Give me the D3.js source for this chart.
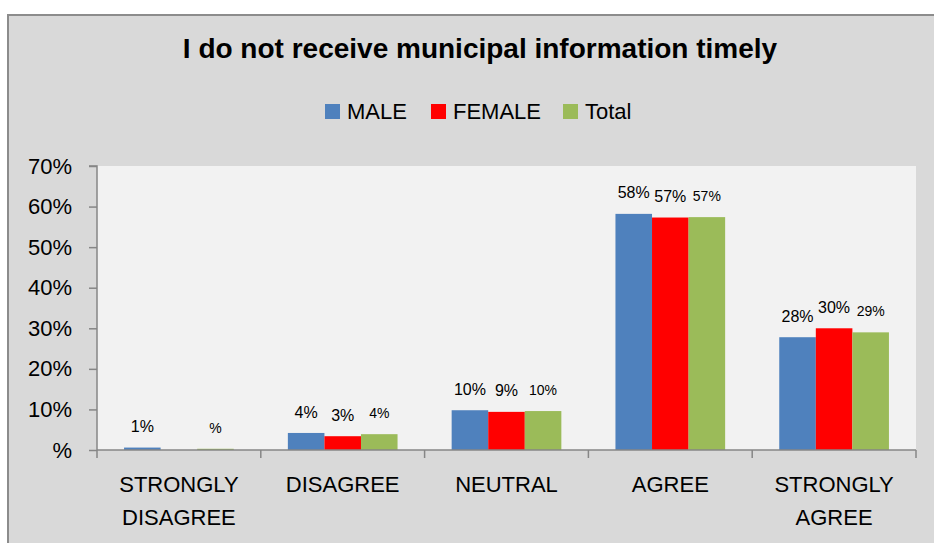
<!DOCTYPE html>
<html>
<head>
<meta charset="utf-8">
<script src="https://cdn.jsdelivr.net/npm/d3@7"></script>
<style>
  html, body { margin: 0; padding: 0; background: #ffffff; }
  svg { display: block; font-family: "Liberation Sans", Arial, sans-serif; }
</style>
</head>
<body>
<svg id="chart" width="934" height="543"></svg>
<script>
// Survey responses: "I do not receive municipal information timely"
const categories = [["STRONGLY", "DISAGREE"], ["DISAGREE"], ["NEUTRAL"], ["AGREE"], ["STRONGLY", "AGREE"]];
const seriesNames = ["MALE", "FEMALE", "Total"];
const maleValues   = [0.006, 0.042, 0.098, 0.582, 0.278];
const femaleValues = [null,  0.034, 0.094, 0.573, 0.300];
const totalValues  = [0.003, 0.039, 0.096, 0.574, 0.290];
const yTicks = [0, 0.1, 0.2, 0.3, 0.4, 0.5, 0.6, 0.7];
const yTickLabels = ["%", "10%", "20%", "30%", "40%", "50%", "60%", "70%"];
const colors = ["#4f81bd", "#ff0000", "#9bbb59"];

const series = [maleValues, femaleValues, totalValues];
const svg = d3.select("#chart");

// Chart frame
svg.append("rect")
  .attr("x", 8).attr("y", 15)
  .attr("width", 940).attr("height", 560)
  .attr("fill", "#d9d9d9")
  .attr("stroke", "#8c8c8c").attr("stroke-width", 2);

const plot = { left: 97, right: 916, top: 166, bottom: 450 };

// Plot area
svg.append("rect")
  .attr("x", plot.left).attr("y", plot.top)
  .attr("width", plot.right - plot.left).attr("height", plot.bottom - plot.top)
  .attr("fill", "#f2f2f2");

// Excel-style "#%" format: zero renders as a bare percent sign
const pct = v => { const n = Math.round(v * 100); return (n === 0 ? "" : n) + "%"; };

const x0 = d3.scaleBand().domain(d3.range(categories.length))
  .range([plot.left, plot.right]).paddingInner(0).paddingOuter(0);
const x1 = d3.scaleBand().domain(d3.range(series.length))
  .range([0, x0.bandwidth()]).paddingInner(0).paddingOuter(0.74);
const y = d3.scaleLinear().domain([0, 0.7]).range([plot.bottom, plot.top]);

// Bars
const groups = svg.append("g").selectAll("g")
  .data(d3.range(categories.length)).join("g")
  .attr("transform", i => `translate(${x0(i)},0)`);

groups.each(function(ci) {
  const g = d3.select(this);
  series.forEach((vals, si) => {
    const v = vals[ci];
    if (v === null) return;
    g.append("rect")
      .attr("x", x1(si)).attr("width", x1.bandwidth())
      .attr("y", y(v)).attr("height", y(0) - y(v))
      .attr("fill", colors[si]);
  });
});

// Value labels
groups.each(function(ci) {
  const g = d3.select(this);
  series.forEach((vals, si) => {
    const v = vals[ci];
    if (v === null) return;
    g.append("text")
      .attr("x", x1(si) + x1.bandwidth() / 2)
      .attr("y", y(v) - 21)
      .attr("dy", "0.35em")
      .attr("text-anchor", "middle")
      .attr("font-size", si === 2 ? 14 : 16)
      .attr("fill", "#000")
      .text(pct(v));
  });
});

// Y axis
const yAxis = d3.axisLeft(y).tickValues(yTicks)
  .tickFormat((d, i) => yTickLabels[i]).tickSize(8).tickPadding(17);
const yg = svg.append("g").attr("transform", `translate(${plot.left},0)`).call(yAxis);
yg.select(".domain").attr("stroke", "#868686").attr("stroke-width", 1.5).attr("d", `M-8,${plot.top}H0V${plot.bottom}`);
yg.selectAll(".tick line").attr("stroke", "#868686").attr("stroke-width", 1.5);
yg.selectAll(".tick text").attr("font-size", 22).attr("fill", "#000")
  .attr("font-family", "'Liberation Sans', Arial, sans-serif");

// X axis with ticks at category boundaries
const xg = svg.append("g");
xg.append("line")
  .attr("x1", plot.left).attr("x2", plot.right)
  .attr("y1", plot.bottom).attr("y2", plot.bottom)
  .attr("stroke", "#868686").attr("stroke-width", 1.5);
const boundaries = d3.range(categories.length + 1).map(i => i < categories.length ? x0(i) : x0(i - 1) + x0.bandwidth());
xg.selectAll("line.tk").data(boundaries).join("line").attr("class", "tk")
  .attr("x1", d => d).attr("x2", d => d)
  .attr("y1", plot.bottom).attr("y2", plot.bottom + 8)
  .attr("stroke", "#868686").attr("stroke-width", 1.5);

const catLabels = xg.selectAll("text.cat").data(categories).join("text").attr("class", "cat")
  .attr("text-anchor", "middle").attr("font-size", 22).attr("fill", "#000");
catLabels.each(function(lines, i) {
  const t = d3.select(this);
  lines.forEach((ln, li) => {
    t.append("tspan")
      .attr("x", x0(i) + x0.bandwidth() / 2)
      .attr("y", 492 + li * 33)
      .text(ln);
  });
});

// Title
svg.append("text")
  .attr("x", 480).attr("y", 58)
  .attr("text-anchor", "middle")
  .attr("font-size", 28).attr("font-weight", "bold").attr("fill", "#000")
  .text("I do not receive municipal information timely");

// Legend
const legendItems = [
  { sx: 325, tx: 347 },
  { sx: 431, tx: 453 },
  { sx: 563, tx: 585 }
];
const legend = svg.append("g");
seriesNames.forEach((name, i) => {
  legend.append("rect")
    .attr("x", legendItems[i].sx).attr("y", 104)
    .attr("width", 15).attr("height", 15)
    .attr("fill", colors[i]);
  legend.append("text")
    .attr("x", legendItems[i].tx).attr("y", 119)
    .attr("font-size", 22).attr("fill", "#000")
    .text(name);
});
</script>
</body>
</html>
